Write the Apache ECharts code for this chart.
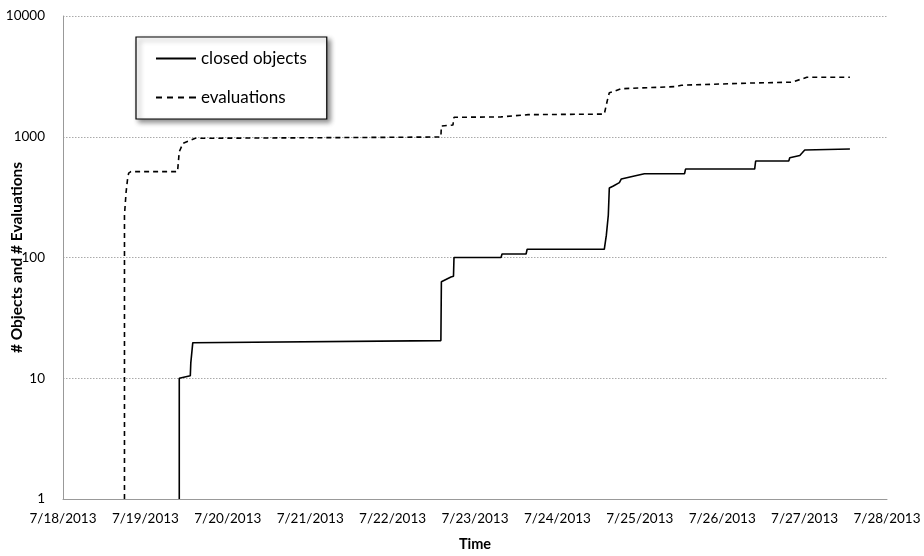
<!DOCTYPE html>
<html>
<head>
<meta charset="utf-8">
<script src="https://cdn.jsdelivr.net/npm/echarts@6/dist/echarts.min.js"></script>
<style>html,body{margin:0;padding:0;background:#fff}#c{width:924px;height:556px}</style>
</head>
<body>
<div id="c"></div>
<script>
// x values: days since 7/18/2013 00:00
const xTickLabels = ['7/18/2013','7/19/2013','7/20/2013','7/21/2013','7/22/2013','7/23/2013','7/24/2013','7/25/2013','7/26/2013','7/27/2013','7/28/2013'];
const yTickValues = [1, 10, 100, 1000, 10000];

const closedDays = [1.411,1.411,1.545,1.551,1.565,1.575,1.594,4.586,4.592,4.708,4.739,4.745,5.316,5.328,5.620,5.633,6.569,6.594,6.618,6.630,6.679,6.752,6.776,6.934,7.056,7.543,7.555,8.394,8.406,8.808,8.820,8.942,8.966,9.002,9.550];
const closedVals = [1,10,10.5,13.4,13.4,19.7,19.7,20.5,63,69,70,100,100,107,107,117,117,153,225,377,391,417,447,473,494,494,540,540,630,630,671,700,729,777,791];

const evalDays = [0.746,0.746,0.766,0.782,0.797,0.824,1.390,1.411,1.456,1.606,2.883,4.586,4.592,4.732,4.745,5.316,5.645,6.569,6.606,6.630,6.679,6.776,7.421,7.506,8.358,8.844,9.027,9.550];
const evalVals = [1,225,349,438,500,514,514,752,883,971,980,995,1228,1250,1449,1460,1524,1540,2000,2317,2360,2500,2600,2670,2786,2830,3107,3107];

const FONT = 'Lato';
const dashIcon = 'path://M0,0h6v2h-6z M11,0h6v2h-6z M22,0h6v2h-6z M33,0h7v2h-7z';
const chart = echarts.init(document.getElementById('c'), null, {renderer: 'canvas'});
chart.setOption({
  animation: false,
  backgroundColor: '#ffffff',
  textStyle: {fontFamily: FONT},
  grid: {left: 63, right: 37, top: 16, bottom: 57, containLabel: false, outerBoundsMode: 'none'},
  legend: {
    orient: 'vertical',
    left: 136, top: 37,
    padding: [13, 20, 13, 20],
    itemGap: 22,
    itemWidth: 40,
    itemHeight: 2,
    backgroundColor: '#ffffff',
    borderColor: '#000000',
    borderWidth: 1.2,
    shadowBlur: 5,
    shadowOffsetX: 3,
    shadowOffsetY: 3,
    shadowColor: 'rgba(0,0,0,0.45)',
    textStyle: {fontFamily: FONT, fontSize: 17, color: '#000'},
    data: [
      {name: 'closed objects', icon: 'rect', itemStyle: {color: '#000'}},
      {name: 'evaluations', icon: dashIcon, itemStyle: {color: '#000'}}
    ]
  },
  xAxis: {
    type: 'value', min: 0, max: 10, interval: 1,
    name: 'Time', nameLocation: 'middle', nameGap: 38,
    nameTextStyle: {fontFamily: FONT, fontSize: 14.5, fontWeight: 'bold', color: '#000'},
    axisLine: {show: true, lineStyle: {color: '#999', width: 1}},
    axisTick: {show: false},
    splitLine: {show: false},
    axisLabel: {margin: 13, fontFamily: FONT, fontSize: 13.5, color: '#000',
      formatter: v => xTickLabels[Math.round(v)] || ''}
  },
  yAxis: {
    type: 'log', logBase: 10, min: 1, max: 10000,
    name: '# Objects and # Evaluations', nameLocation: 'middle', nameGap: 38,
    nameMoveOverlap: false,
    nameTextStyle: {fontFamily: FONT, fontSize: 15.5, fontWeight: 'bold', color: '#000'},
    axisLine: {show: true, lineStyle: {color: '#999', width: 1}},
    axisTick: {show: false},
    splitLine: {show: true, lineStyle: {color: '#aaa', type: [1.5, 1.5], width: 1}},
    axisLabel: {margin: 18, fontFamily: FONT, fontSize: 13.5, color: '#000', padding: [0,0,10,0],
      formatter: v => yTickValues.includes(v) ? String(v) : ''}
  },
  series: [
    {
      name: 'closed objects', type: 'line', showSymbol: false, symbol: 'none',
      data: closedDays.map((d, i) => [d, closedVals[i]]),
      lineStyle: {color: '#000', width: 1.6, type: 'solid'},
      itemStyle: {color: '#000'}
    },
    {
      name: 'evaluations', type: 'line', showSymbol: false, symbol: 'none',
      data: evalDays.map((d, i) => [d, evalVals[i]]),
      lineStyle: {color: '#000', width: 1.6, type: [5, 4]},
      itemStyle: {color: '#000'}
    }
  ]
});
</script>
</body>
</html>
